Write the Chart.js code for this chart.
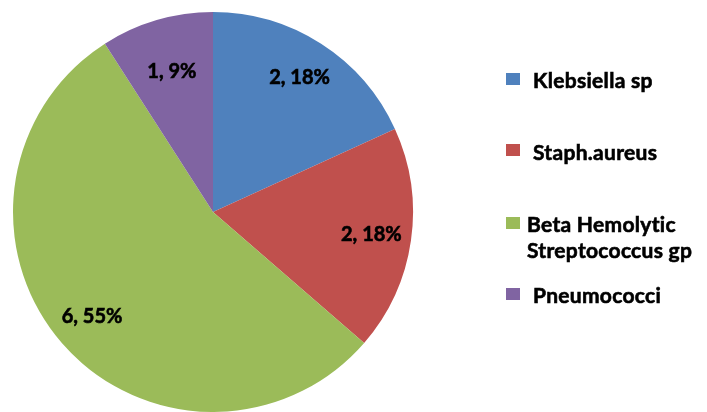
<!DOCTYPE html>
<html><head><meta charset="utf-8">
<script src="https://cdn.jsdelivr.net/npm/chart.js@4"></script>
<style>html,body{margin:0;padding:0;background:#fff}#wrap{width:707px;height:412px}</style>
</head><body><div id="wrap"><canvas id="c" width="707" height="412"></canvas></div>
<script>
const categories = ["Klebsiella sp", "Staph.aureus", "Beta Hemolytic Streptococcus gp", "Pneumococci"];
const legendLines = [["Klebsiella sp"], ["Staph.aureus"], ["Beta Hemolytic", "Streptococcus gp"], ["Pneumococci"]];
const values = [2, 2, 6, 1];
const percentLabels = ["18%", "18%", "55%", "9%"];
const colors = ["#4F81BD", "#C0504D", "#9BBB59", "#8064A2"];

const FONT = "Lato, sans-serif";

function heavyText(ctx, t, x, y) {
  ctx.fillText(t, x, y);
  ctx.strokeText(t, x, y);
}

const labelPlugin = {
  id: 'sliceLabels',
  afterDatasetsDraw(chart) {
    const ctx = chart.ctx;
    const meta = chart.getDatasetMeta(0);
    ctx.save();
    ctx.font = "bold 20px " + FONT;
    ctx.fillStyle = "#000";
    ctx.strokeStyle = "#000";
    ctx.lineWidth = 0.6;
    ctx.textAlign = "center";
    ctx.textBaseline = "middle";
    meta.data.forEach((arc, i) => {
      const p = arc.getProps(['x','y','startAngle','endAngle','outerRadius'], true);
      const mid = (p.startAngle + p.endAngle) / 2;
      const r = p.outerRadius * (i === 3 ? 0.73 : 0.8);
      heavyText(ctx, values[i] + ", " + percentLabels[i], p.x + Math.cos(mid) * r, p.y + Math.sin(mid) * r);
    });
    ctx.restore();
  }
};

const legendPlugin = {
  id: 'sideLegend',
  afterDraw(chart) {
    const ctx = chart.ctx;
    const rows = [
      {sq: 73, tx: 533, ty: [88]},
      {sq: 144, tx: 533, ty: [160]},
      {sq: 217, tx: 527, ty: [232, 258]},
      {sq: 288, tx: 533, ty: [303]}
    ];
    ctx.save();
    ctx.font = "bold 21px " + FONT;
    ctx.letterSpacing = "0.3px";
    ctx.textAlign = "left";
    ctx.textBaseline = "alphabetic";
    ctx.strokeStyle = "#000";
    ctx.lineWidth = 0.6;
    rows.forEach((r, i) => {
      ctx.fillStyle = colors[i];
      ctx.fillRect(506, r.sq, 14, 12);
      ctx.fillStyle = "#000";
      legendLines[i].forEach((t, j) => heavyText(ctx, t, r.tx, r.ty[j]));
    });
    ctx.restore();
  }
};

new Chart(document.getElementById('c'), {
  type: 'pie',
  data: {
    labels: categories,
    datasets: [{ data: values, backgroundColor: colors, borderWidth: 0 }]
  },
  options: {
    responsive: false,
    animation: false,
    layout: { padding: { left: 13, right: 294, top: 12, bottom: 0 } },
    plugins: { legend: { display: false }, tooltip: { enabled: false } }
  },
  plugins: [labelPlugin, legendPlugin]
});
</script>
</body></html>
